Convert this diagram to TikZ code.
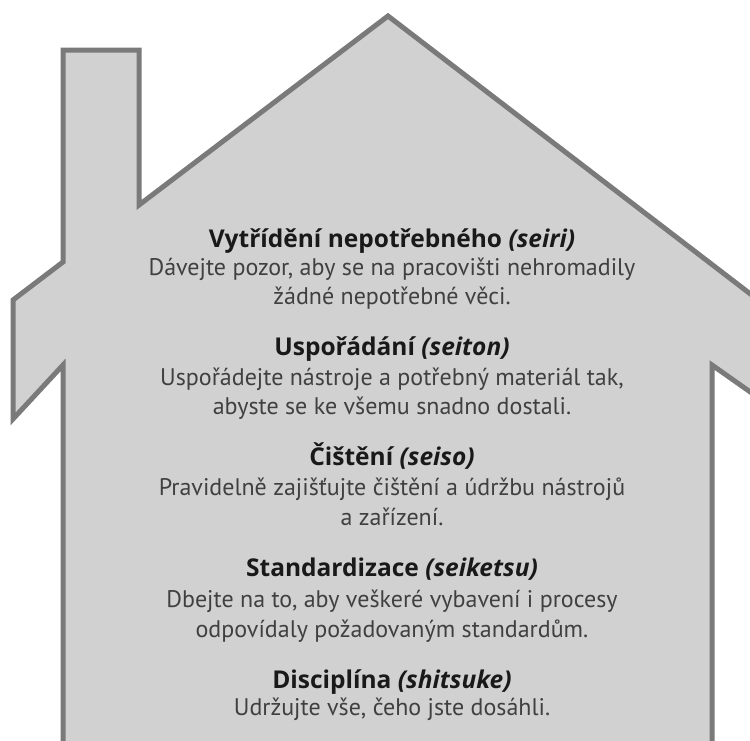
\documentclass[tikz,border=0pt]{standalone}
\usepackage{fontspec}
\setmainfont{PT Sans}
\newfontfamily\headfont{Open Sans}
\begin{document}
\begin{tikzpicture}[x=1pt,y=-1pt,
  wall/.style={draw=black!52,line width=5pt,line join=miter,fill=black!18},
  head/.style={font=\headfont\fontsize{24.5}{28}\selectfont\bfseries,text=black!90,anchor=base,inner sep=0pt},
  body/.style={font=\fontsize{24}{28}\selectfont,text=black!75,anchor=base,inner sep=0pt}]
\useasboundingbox (0,0) rectangle (750,740);
\begin{scope}
\clip (0,0) rectangle (750,740);
% house outline with chimney and eaves
\draw[wall] (388,16) -- (800,332) -- (800,427) -- (712,365) -- (712,770)
  -- (63,770) -- (63,365) -- (13,419) -- (13,300) -- (63,262) -- (63,50)
  -- (139,50) -- (139,205) -- cycle;
\end{scope}
% seiri
\node[head] (h1) at (392,247) {Vytřídění nepotřebného \textit{(seiri)}};
\node[body] (b1a) at (392,275) {Dávejte pozor, aby se na pracovišti nehromadily};
\node[body] (b1b) at (392,304) {žádné nepotřebné věci.};
% seiton
\node[head] (h2) at (392,355) {Uspořádání \textit{(seiton)}};
\node[body] (b2a) at (392,385) {Uspořádejte nástroje a potřebný materiál tak,};
\node[body] (b2b) at (392,414) {abyste se ke všemu snadno dostali.};
% seiso
\node[head] (h3) at (392,465) {Čištění \textit{(seiso)}};
\node[body] (b3a) at (392,495) {Pravidelně zajišťujte čištění a údržbu nástrojů};
\node[body] (b3b) at (392,525) {a zařízení.};
% seiketsu
\node[head] (h4) at (392,576) {Standardizace \textit{(seiketsu)}};
\node[body] (b4a) at (392,607) {Dbejte na to, aby veškeré vybavení i procesy};
\node[body] (b4b) at (392,637) {odpovídaly požadovaným standardům.};
% shitsuke
\node[head] (h5) at (392,688) {Disciplína \textit{(shitsuke)}};
\node[body] (b5) at (392,715) {Udržujte vše, čeho jste dosáhli.};
\end{tikzpicture}
\end{document}
